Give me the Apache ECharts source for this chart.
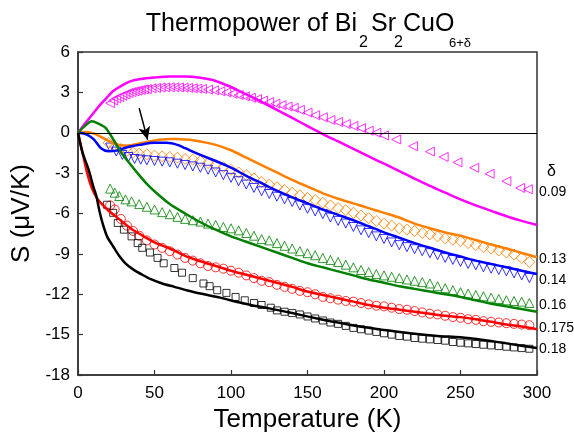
<!DOCTYPE html>
<html><head><meta charset="utf-8">
<script src="https://cdn.jsdelivr.net/npm/echarts@6/dist/echarts.min.js"></script>
<style>html,body{margin:0;padding:0;background:#fff}#c{width:574px;height:439px}</style>
</head><body><div id="c"></div>
<script>
// ---- data (T in K, S in µV/K) ----
const xTicks = [0, 50, 100, 150, 200, 250, 300];
const yTicks = [-18, -15, -12, -9, -6, -3, 0, 3, 6];
const deltaLabels = ['0.09', '0.13', '0.14', '0.16', '0.175', '0.18'];

const line009 = [[0,0],[5,0.75],[10,1.45],[15,2.15],[20,2.75],[23,3.1],[30,3.6],[35,3.85],[40,3.97],[50,4.1],[60,4.18],[70,4.18],[80,4.08],[90,3.85],[100,3.4],[110,2.85],[120,2.3],[130,1.7],[140,1.1],[150,0.5],[160,-0.1],[170,-0.65],[180,-1.2],[190,-1.75],[200,-2.3],[210,-2.85],[220,-3.4],[230,-3.95],[240,-4.45],[250,-4.95],[260,-5.4],[270,-5.8],[280,-6.2],[290,-6.55],[300,-6.85]];
const line013 = [[0,0],[5,0.05],[10,-0.05],[15,-0.3],[20,-0.6],[25,-0.85],[30,-0.95],[35,-0.92],[40,-0.8],[45,-0.68],[50,-0.58],[55,-0.5],[60,-0.47],[65,-0.47],[70,-0.5],[75,-0.55],[80,-0.65],[90,-0.9],[100,-1.3],[110,-1.85],[120,-2.4],[130,-2.95],[140,-3.5],[150,-4.0],[160,-4.5],[170,-4.9],[180,-5.25],[190,-5.6],[200,-5.95],[210,-6.3],[220,-6.75],[230,-7.1],[240,-7.4],[250,-7.65],[260,-7.97],[270,-8.3],[280,-8.6],[290,-8.93],[300,-9.25]];
const line014 = [[0,0],[5,-0.1],[10,-0.45],[15,-1.15],[20,-1.38],[25,-1.33],[30,-1.15],[35,-1.0],[40,-0.9],[50,-0.75],[58,-0.75],[65,-0.9],[70,-1.15],[80,-1.65],[90,-2.1],[100,-2.6],[110,-3.2],[120,-3.75],[130,-4.3],[140,-4.8],[150,-5.25],[160,-5.7],[170,-6.1],[180,-6.5],[190,-6.95],[200,-7.4],[210,-7.8],[220,-8.2],[230,-8.55],[240,-8.9],[250,-9.2],[260,-9.5],[270,-9.75],[280,-10.0],[290,-10.25],[300,-10.5]];
const line016 = [[0,0],[5,0.55],[9,0.85],[13,0.7],[18,0.37],[22,-0.3],[27,-1.25],[30,-1.75],[35,-2.45],[40,-3.15],[45,-3.8],[50,-4.35],[60,-5.3],[70,-6.0],[80,-6.65],[90,-7.2],[100,-7.7],[110,-8.1],[120,-8.5],[130,-8.9],[140,-9.3],[150,-9.7],[160,-10.0],[170,-10.3],[180,-10.6],[190,-10.9],[200,-11.15],[210,-11.4],[220,-11.6],[230,-11.8],[240,-12.0],[250,-12.2],[260,-12.45],[270,-12.7],[280,-12.9],[290,-13.1],[300,-13.3]];
const line0175 = [[0,0],[3,-1.5],[6,-3.0],[9,-4.1],[12,-4.8],[16,-5.35],[20,-5.8],[25,-6.25],[30,-6.7],[35,-7.15],[40,-7.5],[50,-8.15],[60,-8.6],[70,-9.15],[80,-9.55],[90,-9.9],[100,-10.25],[110,-10.55],[120,-10.85],[130,-11.15],[140,-11.45],[150,-11.8],[160,-12.05],[170,-12.3],[180,-12.55],[190,-12.8],[200,-13.0],[210,-13.15],[220,-13.3],[230,-13.45],[240,-13.6],[250,-13.7],[260,-13.85],[270,-14.05],[280,-14.25],[290,-14.4],[300,-14.6]];
const line018 = [[0,0],[3,-1.5],[7,-2.75],[10,-4.0],[12,-4.7],[14,-5.8],[16,-6.7],[19,-7.7],[23,-8.45],[27,-9.15],[31,-9.7],[36,-10.15],[42,-10.55],[48,-10.9],[55,-11.2],[63,-11.45],[71,-11.7],[80,-11.95],[93,-12.25],[105,-12.6],[115,-12.85],[125,-13.05],[140,-13.4],[152,-13.7],[165,-14.0],[184,-14.4],[200,-14.65],[217,-14.9],[235,-15.1],[250,-15.2],[265,-15.4],[280,-15.65],[300,-16.0]];

const pts009 = [[21,2.2],[23,2.4],[25,2.55],[27,2.65],[29,2.75],[31,2.85],[33,2.95],[35,3.02],[37,3.08],[39,3.13],[41,3.18],[43,3.22],[45,3.25],[48,3.3],[51,3.33],[54,3.36],[57,3.37],[60,3.38],[63,3.38],[66,3.37],[69,3.35],[72,3.33],[75,3.31],[78,3.28],[81,3.25],[85,3.2],[89,3.15],[93,3.08],[97,3.0],[101,2.9],[105,2.8],[109,2.7],[113,2.6],[117,2.5],[121,2.4],[125,2.28],[129,2.16],[133,2.05],[137,1.95],[141,1.85],[145,1.7],[150,1.5],[155,1.3],[160,1.15],[165,0.95],[170,0.8],[175,0.65],[180,0.5],[185,0.35],[190,0.15],[195,0],[200,-0.2],[208,-0.5],[219,-1.0],[230,-1.4],[239,-1.8],[248,-2.2],[259,-2.6],[269,-3.05],[280,-3.6],[289,-4.1],[294,-4.2]];
const pts013 = [[20,-0.75],[24,-1.0],[28,-1.2],[32,-1.35],[36,-1.45],[40,-1.55],[45,-1.6],[50,-1.7],[55,-1.75],[60,-1.8],[65,-1.85],[70,-1.95],[75,-2.0],[80,-2.1],[85,-2.25],[90,-2.4],[95,-2.55],[100,-2.75],[105,-2.95],[110,-3.15],[115,-3.4],[120,-3.65],[125,-3.85],[130,-4.05],[135,-4.25],[140,-4.45],[145,-4.65],[150,-4.85],[155,-5.0],[160,-5.2],[165,-5.4],[170,-5.6],[175,-5.75],[180,-5.95],[185,-6.15],[190,-6.35],[195,-6.55],[200,-6.75],[205,-6.9],[210,-7.1],[215,-7.2],[220,-7.3],[225,-7.45],[230,-7.55],[235,-7.7],[240,-7.85],[245,-7.95],[250,-8.05],[255,-8.2],[260,-8.35],[265,-8.5],[270,-8.6],[275,-8.75],[280,-8.9],[285,-9.05],[290,-9.3],[295,-9.6]];
const pts014 = [[21,-1.1],[25,-1.4],[29,-1.65],[33,-1.8],[37,-1.95],[41,-2.0],[45,-2.05],[50,-2.1],[55,-2.15],[60,-2.2],[65,-2.3],[70,-2.4],[75,-2.5],[80,-2.6],[85,-2.75],[90,-2.95],[95,-3.15],[100,-3.35],[105,-3.6],[110,-3.85],[115,-4.1],[120,-4.35],[125,-4.55],[130,-4.75],[135,-4.95],[140,-5.15],[145,-5.4],[150,-5.65],[155,-5.85],[160,-6.05],[165,-6.3],[170,-6.55],[175,-6.75],[180,-7.0],[185,-7.25],[190,-7.45],[195,-7.7],[200,-7.9],[205,-8.15],[210,-8.35],[215,-8.5],[220,-8.65],[225,-8.8],[230,-8.95],[235,-9.1],[240,-9.3],[245,-9.45],[250,-9.6],[255,-9.75],[260,-9.85],[265,-10.0],[270,-10.1],[275,-10.2],[280,-10.3],[285,-10.45],[290,-10.6],[295,-10.8]];
const pts016 = [[21,-4.15],[24,-4.45],[27,-4.7],[31,-4.95],[35,-5.1],[40,-5.3],[45,-5.5],[50,-5.7],[55,-5.9],[60,-6.05],[65,-6.25],[70,-6.4],[75,-6.5],[80,-6.6],[85,-6.75],[90,-6.85],[95,-7.0],[100,-7.1],[105,-7.25],[110,-7.45],[115,-7.65],[120,-7.9],[125,-8.0],[130,-8.2],[135,-8.4],[140,-8.6],[145,-8.8],[150,-8.95],[155,-9.1],[160,-9.3],[165,-9.45],[170,-9.6],[175,-9.8],[180,-10.0],[185,-10.2],[190,-10.35],[195,-10.5],[200,-10.6],[205,-10.7],[210,-10.8],[215,-10.9],[220,-11.0],[225,-11.1],[230,-11.2],[235,-11.4],[240,-11.55],[245,-11.7],[250,-11.85],[255,-11.95],[260,-12.05],[265,-12.15],[270,-12.25],[275,-12.35],[280,-12.45],[285,-12.5],[290,-12.55],[295,-12.65]];
const pts0175 = [[21,-5.4],[24,-5.7],[28,-6.4],[32,-6.9],[36,-7.3],[40,-7.65],[45,-8.0],[50,-8.3],[55,-8.55],[60,-8.8],[65,-9.05],[70,-9.3],[75,-9.5],[80,-9.7],[85,-9.9],[90,-10.0],[95,-10.1],[100,-10.25],[105,-10.4],[110,-10.6],[115,-10.8],[120,-11.0],[125,-11.1],[130,-11.3],[135,-11.45],[140,-11.6],[145,-11.75],[150,-11.85],[155,-12.0],[160,-12.2],[165,-12.3],[170,-12.4],[175,-12.5],[180,-12.55],[185,-12.65],[190,-12.75],[195,-12.85],[200,-12.9],[205,-13.0],[210,-13.1],[215,-13.15],[220,-13.25],[225,-13.35],[230,-13.45],[235,-13.5],[240,-13.6],[245,-13.7],[250,-13.75],[255,-13.85],[260,-13.9],[265,-14.0],[270,-14.05],[275,-14.1],[280,-14.15],[285,-14.2],[290,-14.25],[295,-14.3]];
const pts018 = [[19,-5.35],[23,-5.95],[26,-6.7],[30,-7.2],[35,-7.7],[39,-8.2],[42,-8.55],[47,-8.9],[52,-9.3],[56,-9.7],[63,-10.05],[68,-10.4],[75,-10.8],[82,-11.2],[86,-11.4],[91,-11.7],[97,-11.9],[103,-12.2],[109,-12.45],[115,-12.65],[120,-12.8],[126,-13.0],[130,-13.2],[135,-13.3],[140,-13.4],[145,-13.5],[150,-13.65],[155,-13.8],[160,-13.95],[165,-14.1],[170,-14.2],[175,-14.35],[180,-14.5],[185,-14.6],[190,-14.7],[195,-14.8],[200,-14.9],[205,-15.0],[210,-15.1],[215,-15.15],[220,-15.25],[225,-15.3],[230,-15.35],[235,-15.4],[240,-15.45],[245,-15.55],[250,-15.6],[255,-15.65],[260,-15.7],[265,-15.75],[270,-15.8],[275,-15.85],[280,-15.9],[285,-15.95],[290,-16.0],[295,-16.05]];

const arrowFrom = [40, 1.83];
const arrowTo = [45.5, -0.52];

// title pieces: [text, fontSize, isSubscript]
const titleParts = [['Thermopower of Bi', 25, false], ['2', 16, true], ['Sr', 25, false], ['2', 16, true], ['CuO', 25, false], ['6+δ', 13, true]];

// ---- chart ----
const FONT = 'Arial';
const colors = ['#ff00ff', '#ff8000', '#0000ff', '#008000', '#ff0000', '#000000'];
const lines = [line009, line013, line014, line016, line0175, line018];
const pts = [pts009, pts013, pts014, pts016, pts0175, pts018];
const syms = [['triangle', 90, 9], ['diamond', 0, 11], ['triangle', 180, 9], ['triangle', 0, 9], ['circle', 0, 9], ['rect', 0, 7]];

const series = [];
pts.forEach((d, i) => {
  series.push({
    type: 'scatter', data: d, symbol: syms[i][0], symbolRotate: syms[i][1], symbolSize: syms[i][2],
    itemStyle: { color: 'rgba(0,0,0,0)', borderColor: colors[i], borderWidth: 1 },
    silent: true, z: 2
  });
});
lines.forEach((d, i) => {
  series.push({
    type: 'line', data: d, showSymbol: false, smooth: 0.3,
    lineStyle: { color: colors[i], width: 2.5 }, z: 3, silent: true
  });
});
series.push({
  type: 'line', data: [], silent: true, z: 4,
  markLine: {
    silent: true, animation: false,
    label: { show: false },
    data: [
      [{ coord: [0, 0], symbol: 'none' }, { coord: [300, 0], symbol: 'none', lineStyle: { color: '#000', width: 1.2, type: 'solid' } }],
      [{ coord: arrowFrom, symbol: 'none' }, { coord: arrowTo, symbol: 'arrow', symbolSize: [9, 13], lineStyle: { color: '#000', width: 1.5, type: 'solid' } }]
    ],
    lineStyle: { color: '#000', type: 'solid' }
  }
});

const labelY = [193, 260, 281, 306, 329, 350];
const graphic = [{ type: 'text', left: 547, top: 164, style: { text: 'δ', font: '16px ' + FONT, fill: '#000' } }];
deltaLabels.forEach((t, i) => {
  graphic.push({ type: 'text', left: 539, top: labelY[i] - 8, style: { text: t, font: '14px ' + FONT, fill: '#000' } });
});

// title: pieces anchored at fixed layout positions (first piece right-aligned to join the subscript)
const titleX = [357, 359, 371, 394, 403, 449];
const titleAlign = ['right', 'left', 'left', 'left', 'left', 'left'];
const mainBase = 32, subBase = 47;
titleParts.forEach((p, i) => {
  const base = p[2] ? subBase : mainBase;
  graphic.push({
    type: 'text', x: titleX[i], y: base - 0.3 * p[1],
    style: { text: p[0], font: p[1] + 'px ' + FONT, fill: '#000', align: titleAlign[i], verticalAlign: 'middle', textAlign: titleAlign[i], textVerticalAlign: 'middle' }
  });
});

const chart = echarts.init(document.getElementById('c'), null, { renderer: 'canvas' });
chart.setOption({
  animation: false,
  backgroundColor: '#fff',
  textStyle: { fontFamily: FONT },
  grid: { left: 78, right: 37, top: 52, bottom: 64, show: true, borderColor: '#333', borderWidth: 1.5 },
  xAxis: {
    type: 'value', min: 0, max: 300, interval: 50,
    name: 'Temperature (K)', nameLocation: 'middle', nameGap: 28,
    nameTextStyle: { fontFamily: FONT, fontSize: 26, color: '#000' },
    axisLine: { show: true, onZero: false, lineStyle: { color: '#333', width: 1.5 } },
    axisTick: { show: true, inside: true, length: 5, lineStyle: { color: '#333', width: 1.2 } },
    axisLabel: { fontFamily: FONT, fontSize: 17, color: '#000', margin: 10, formatter: v => xTicks.includes(v) ? String(v) : '' },
    splitLine: { show: false }
  },
  yAxis: {
    type: 'value', min: -18, max: 6, interval: 3,
    name: 'S (μV/K)', nameLocation: 'middle', nameGap: 40, nameRotate: 90,
    nameTextStyle: { fontFamily: FONT, fontSize: 26, color: '#000' },
    axisLine: { show: true, onZero: false, lineStyle: { color: '#333', width: 1.5 } },
    axisTick: { show: true, inside: true, length: 5, lineStyle: { color: '#333', width: 1.2 } },
    axisLabel: { fontFamily: FONT, fontSize: 17, color: '#000', margin: 8, formatter: v => yTicks.includes(v) ? String(v) : '' },
    splitLine: { show: false }
  },
  graphic: graphic,
  series: series
});
</script></body></html>
